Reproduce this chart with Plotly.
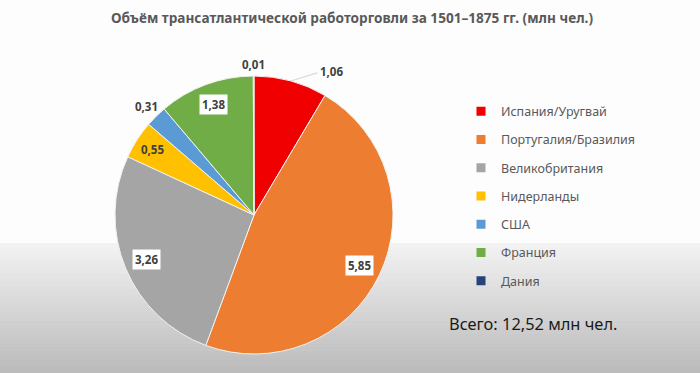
import math
import plotly.graph_objects as go

# ---- data ----
countries = ["Испания/Уругвай", "Португалия/Бразилия", "Великобритания",
             "Нидерланды", "США", "Франция", "Дания"]
values = [1.06, 5.85, 3.26, 0.55, 0.31, 1.38, 0.01]
colors = ["#F00000", "#ED7D31", "#A5A5A5", "#FFC000", "#5B9BD5", "#70AD47", "#264478"]
title_text = "Объём трансатлантической работорговли за 1501–1875 гг. (млн чел.)"
total_text = "Всего: 12,52 млн чел."

# ---- label styling (radius factor, boxed, angle nudge in degrees) ----
label_style = [
    (1.17, False, 13),
    (0.84, True, 0),
    (0.84, True, 0),
    (0.87, False, 0),
    (1.10, False, 0),
    (0.85, True, 0),
    (1.08, False, 0),
]

W, H = 700, 373
cx, cy, R = 254, 215, 139  # pixel geometry of pie

fig = go.Figure()

fig.add_trace(go.Pie(
    labels=countries, values=values, sort=False, direction="clockwise", rotation=0,
    marker=dict(colors=colors, line=dict(color="#F2F2F2", width=1)),
    textinfo="none", hoverinfo="label+value", showlegend=False,
    domain=dict(x=[(cx - R) / W, (cx + R) / W], y=[1 - (cy + R) / H, 1 - (cy - R) / H]),
))

# legend entries via dummy traces (to control item spacing)
for i, (name, col) in enumerate(zip(countries, colors)):
    fig.add_trace(go.Scatter(
        x=[None], y=[None], mode="markers", name=name, legendgroup=str(i),
        marker=dict(symbol="square", size=9, color=col), showlegend=True,
    ))

def px_to_paper(x, y):
    return x / W, 1 - y / H

total = sum(values)
annotations = []
shapes = []

# background gradient (lower part)
top_px, bot_px = 243, 373
steps = 40
for k in range(steps):
    y0 = top_px + (bot_px - top_px) * k / steps
    y1 = top_px + (bot_px - top_px) * (k + 1) / steps + 0.5
    g = int(round(243 - (243 - 186) * (k + 0.5) / steps))
    shapes.append(dict(type="rect", xref="paper", yref="paper", layer="below",
                       x0=0, x1=1, y0=max(0, 1 - y1 / H), y1=1 - y0 / H,
                       fillcolor=f"rgb({g},{g},{g})", line=dict(width=0)))

cum = 0.0
for v, (rf, boxed, nudge) in zip(values, label_style):
    mid = (cum + v / 2) / total * 360.0
    cum += v
    a = math.radians(mid + nudge)
    lx = cx + rf * R * math.sin(a)
    ly = cy - rf * R * math.cos(a)
    px, py = px_to_paper(lx, ly)
    txt = f"{v:.2f}".replace(".", ",")
    ann = dict(x=px, y=py, xref="paper", yref="paper", text=txt, showarrow=False,
               font=dict(family="Noto Sans", size=11.5, color="#404040", weight="bold"),
               xanchor="center", yanchor="middle")
    if boxed:
        ann.update(bgcolor="white", borderpad=2)
    annotations.append(ann)
    if nudge:
        am = math.radians(mid)
        sx, sy = cx + R * math.sin(am), cy - R * math.cos(am)
        ex, ey = lx - 14, ly + 1
        shapes.append(dict(type="line", xref="paper", yref="paper",
                           x0=sx / W, y0=1 - sy / H, x1=ex / W, y1=1 - ey / H,
                           line=dict(color="#D9D9D9", width=1.2)))

annotations.append(dict(x=533 / W, y=1 - 323 / H, xref="paper", yref="paper",
                        text=total_text, showarrow=False, xanchor="center", yanchor="middle",
                        font=dict(family="Noto Sans", size=16.4, color="#1A1A1A")))

fig.update_layout(
    width=W, height=H, margin=dict(l=0, r=0, t=0, b=0),
    paper_bgcolor="#FDFDFD", plot_bgcolor="rgba(0,0,0,0)",
    title=dict(text=title_text, x=352 / W, y=1 - 18 / H, xanchor="center", yanchor="middle",
               font=dict(family="Noto Sans", size=13.6, color="#595959", weight="bold")),
    xaxis=dict(visible=False), yaxis=dict(visible=False),
    legend=dict(x=461 / W, y=1 - 96.5 / H, xanchor="left", yanchor="top",
                bgcolor="rgba(0,0,0,0)", tracegroupgap=9, traceorder="grouped",
                font=dict(family="Noto Sans", size=12.5, color="#595959")),
    annotations=annotations, shapes=shapes,
)

fig.write_html("out.html", config={"displayModeBar": False},
               post_script="document.body.style.margin='0';")
